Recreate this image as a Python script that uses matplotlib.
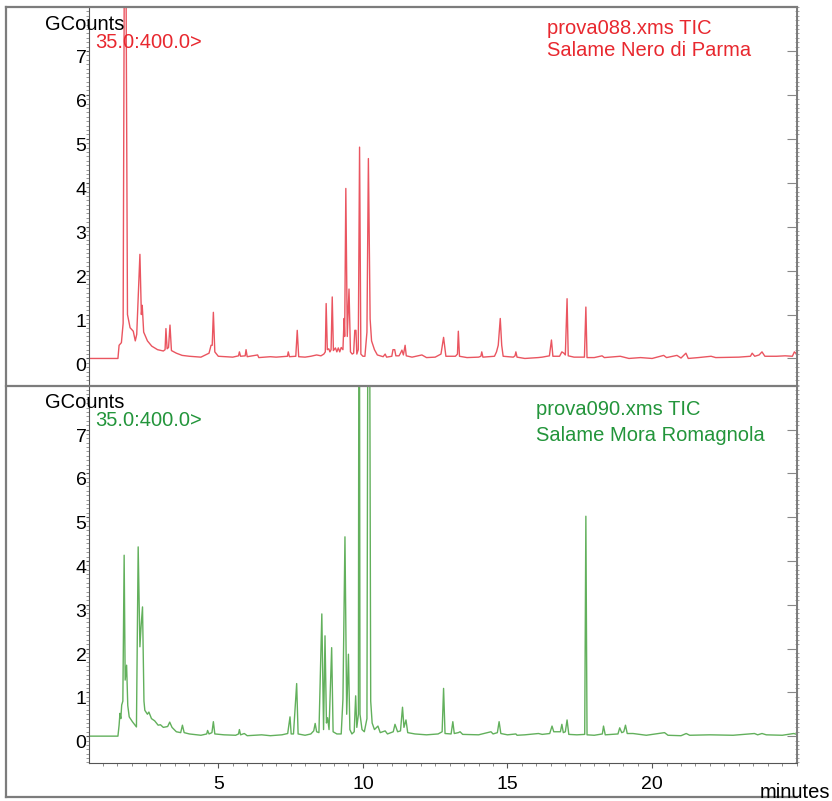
"""
Two stacked TIC chromatograms (GCounts vs minutes), Saturn-style layout.
"""

import matplotlib.pyplot as plt
from matplotlib.lines import Line2D
from matplotlib.ticker import FixedLocator, MultipleLocator
from matplotlib.transforms import ScaledTranslation

plt.rcParams["font.family"] = ["Liberation Sans", "DejaVu Sans"]

t_088 = [0.54, 1.53, 1.57, 1.65, 1.71, 1.775, 1.86, 1.95, 2.06, 2.13, 2.18,
         2.29, 2.34, 2.37, 2.42, 2.55, 2.70, 2.90, 3.10, 3.16, 3.19, 3.23,
         3.28, 3.33, 3.38, 3.55, 3.75, 4.00, 4.40, 4.68, 4.75, 4.79, 4.83,
         4.88, 5.00, 5.50, 5.70, 5.73, 5.77, 5.93, 5.96, 6.00, 6.36, 6.40,
         6.80, 7.00, 7.39, 7.42, 7.46, 7.68, 7.73, 7.78, 8.00, 8.20, 8.40,
         8.55, 8.65, 8.70, 8.73, 8.77, 8.82, 8.86, 8.90, 8.94, 8.98, 9.05,
         9.10, 9.15, 9.20, 9.25, 9.31, 9.35, 9.37, 9.41, 9.46, 9.52, 9.57,
         9.63, 9.68, 9.72, 9.76, 9.79, 9.84, 9.885, 9.93, 10.00, 10.07,
         10.14, 10.19, 10.25, 10.30, 10.40, 10.50, 10.70, 10.77, 10.82,
         11.00, 11.04, 11.10, 11.14, 11.25, 11.30, 11.35, 11.40, 11.46,
         11.50, 11.70, 12.04, 12.20, 12.50, 12.70, 12.79, 12.87, 13.20,
         13.27, 13.30, 13.34, 13.60, 14.00, 14.08, 14.11, 14.15, 14.55,
         14.62, 14.68, 14.75, 14.80, 14.85, 15.20, 15.26, 15.29, 15.33,
         15.60, 16.06, 16.20, 16.45, 16.52, 16.57, 16.80, 16.88, 16.95,
         17.00, 17.06, 17.10, 17.30, 17.66, 17.71, 17.75, 18.00, 18.27,
         18.35, 18.90, 19.20, 19.60, 20.00, 20.40, 20.50, 20.86, 21.00,
         21.17, 21.25, 21.60, 22.04, 22.20, 23.00, 23.40, 23.46, 23.55,
         23.70, 23.80, 23.90, 24.30, 24.60, 24.85, 24.92, 25.00]
i_088 = [0.00, 0.00, 0.30, 0.36, 0.80, 14.0, 1.00, 0.70, 0.62, 0.40, 0.55,
         2.37, 1.00, 1.21, 0.60, 0.40, 0.28, 0.20, 0.17, 0.20, 0.68, 0.22,
         0.25, 0.76, 0.18, 0.12, 0.07, 0.05, 0.03, 0.12, 0.30, 0.30, 1.05,
         0.15, 0.05, 0.03, 0.06, 0.15, 0.05, 0.06, 0.20, 0.04, 0.08, 0.02,
         0.04, 0.03, 0.05, 0.15, 0.04, 0.05, 0.64, 0.04, 0.03, 0.05, 0.08,
         0.06, 0.10, 0.15, 1.25, 0.20, 0.22, 0.15, 0.20, 1.40, 0.18, 0.24,
         0.15, 0.24, 0.15, 0.25, 0.20, 0.91, 0.50, 3.87, 0.50, 1.58, 0.15,
         0.10, 0.12, 0.64, 0.64, 0.10, 0.20, 4.81, 0.10, 0.05, 0.05,
         0.60, 4.55, 0.90, 0.40, 0.20, 0.08, 0.04, 0.10, 0.03,
         0.05, 0.20, 0.20, 0.06, 0.06, 0.12, 0.19, 0.08, 0.30,
         0.06, 0.03, 0.08, 0.02, 0.03, 0.10, 0.48, 0.05, 0.05,
         0.10, 0.62, 0.05, 0.02, 0.03, 0.05, 0.15, 0.03, 0.05,
         0.15, 0.30, 0.91, 0.30, 0.05, 0.03, 0.06, 0.15, 0.03,
         0.00, 0.02, 0.03, 0.06, 0.42, 0.05, 0.05, 0.15, 0.12,
         0.08, 1.36, 0.06, 0.03, 0.03, 1.17, 0.02, 0.02, 0.06,
         0.02, 0.05, 0.00, 0.02, 0.00, 0.07, 0.02, 0.07, 0.01,
         0.12, 0.00, 0.02, 0.05, 0.02, 0.03, 0.05, 0.12, 0.05,
         0.08, 0.15, 0.05, 0.05, 0.06, 0.05, 0.15, 0.10]

t_090 = [0.54, 1.53, 1.57, 1.60, 1.63, 1.66, 1.70, 1.745, 1.78, 1.83, 1.87,
         1.92, 2.03, 2.17, 2.23, 2.29, 2.33, 2.38, 2.43, 2.46, 2.55, 2.60,
         2.69, 2.80, 2.92, 3.00, 3.10, 3.25, 3.32, 3.40, 3.55, 3.70, 3.76,
         3.82, 4.00, 4.40, 4.60, 4.63, 4.68, 4.78, 4.83, 4.88, 5.20, 5.60,
         5.70, 5.73, 5.77, 5.90, 6.00, 6.50, 6.80, 7.20, 7.40, 7.48, 7.52,
         7.60, 7.71, 7.76, 8.00, 8.20, 8.30, 8.35, 8.40, 8.48, 8.58, 8.64,
         8.69, 8.74, 8.78, 8.83, 8.92, 8.97, 9.10, 9.25, 9.31, 9.38, 9.44,
         9.50, 9.55, 9.62, 9.70, 9.75, 9.79, 9.845, 9.87, 9.90, 9.97,
         10.05, 10.14, 10.20, 10.27, 10.32, 10.40, 10.52, 10.60, 10.77,
         10.85, 11.05, 11.11, 11.20, 11.30, 11.37, 11.42, 11.49, 11.55,
         11.80, 12.20, 12.60, 12.74, 12.79, 12.84, 13.05, 13.11, 13.16,
         13.30, 13.36, 13.45, 14.00, 14.43, 14.50, 14.65, 14.71, 14.77,
         15.00, 15.29, 15.33, 15.60, 16.07, 16.20, 16.46, 16.54, 16.60,
         16.83, 16.88, 16.93, 17.00, 17.06, 17.12, 17.40, 17.67, 17.71,
         17.75, 18.00, 18.28, 18.32, 18.38, 18.82, 18.88, 18.95, 19.02,
         19.08, 19.14, 19.34, 19.80, 20.43, 20.55, 21.00, 21.18, 21.30,
         22.00, 22.80, 23.54, 23.65, 23.80, 23.95, 24.50, 24.90, 25.00]
i_090 = [0.00, 0.00, 0.25, 0.52, 0.40, 0.71, 0.80, 4.13, 1.28, 1.62, 0.70,
         0.44, 0.33, 0.21, 4.32, 2.04, 2.50, 2.95, 0.80, 0.59, 0.50, 0.55,
         0.40, 0.35, 0.25, 0.26, 0.20, 0.22, 0.32, 0.20, 0.10, 0.08, 0.25,
         0.08, 0.05, 0.02, 0.05, 0.13, 0.05, 0.08, 0.33, 0.05, 0.03, 0.02,
         0.05, 0.15, 0.03, 0.06, 0.01, 0.03, 0.01, 0.03, 0.06, 0.44, 0.05,
         0.05, 1.20, 0.05, 0.02, 0.05, 0.12, 0.29, 0.10, 0.08, 2.79, 0.15,
         2.29, 0.30, 0.42, 0.15, 2.02, 0.10, 0.05, 0.05, 0.84, 4.55, 0.50,
         1.87, 0.15, 0.05, 0.10, 0.92, 0.20, 0.50, 16.0, 0.50, 0.15,
         0.10, 0.40, 18.0, 0.80, 0.30, 0.15, 0.23, 0.08, 0.12,
         0.05, 0.10, 0.27, 0.10, 0.12, 0.66, 0.20, 0.37, 0.08,
         0.05, 0.03, 0.05, 0.10, 1.09, 0.06, 0.05, 0.33, 0.06,
         0.08, 0.10, 0.04, 0.03, 0.10, 0.05, 0.08, 0.33, 0.06,
         0.03, 0.05, 0.02, 0.03, 0.06, 0.04, 0.06, 0.23, 0.10,
         0.10, 0.27, 0.08, 0.10, 0.37, 0.04, 0.03, 0.04, 5.02,
         0.03, 0.02, 0.05, 0.23, 0.03, 0.05, 0.19, 0.08, 0.10,
         0.25, 0.06, 0.06, 0.02, 0.08, 0.02, 0.01, 0.06, 0.02,
         0.03, 0.02, 0.06, 0.03, 0.06, 0.03, 0.02, 0.06, 0.04]

panels = [
    dict(t=t_088, i=i_088, file="prova088.xms TIC", name="Salame Nero di Parma",
         trace="#ea5560", text="#e8282f"),
    dict(t=t_090, i=i_090, file="prova090.xms TIC", name="Salame Mora Romagnola",
         trace="#62b05c", text="#23953b"),
]
mass_range = "35.0:400.0>"
y_ticks = [0, 1, 2, 3, 4, 5, 6, 7]
x_ticks = [5, 10, 15, 20]

W, H = 832, 801
fig = plt.figure(figsize=(W / 100, H / 100), dpi=100)
frame_c = "#7c7c7c"

left, right = 89.3 / W, 796.7 / W
tops = [7.0, 385.7]
bots = [385.7, 763.3]

for k, p in enumerate(panels):
    ax = fig.add_axes([left, 1 - bots[k] / H, right - left, (bots[k] - tops[k]) / H])
    ax.plot(p["t"], p["i"], color=p["trace"], lw=1.0)
    ax.set_xlim(0.54, 25.0)
    ax.set_ylim(-0.62, 8.0)

    ax.spines[["top"]].set_visible(False)
    ax.spines["left"].set_color("#555555")
    ax.spines["right"].set_color(frame_c)
    ax.spines["right"].set_linewidth(1.4)

    ax.yaxis.set_major_locator(FixedLocator(y_ticks))
    ax.yaxis.set_minor_locator(MultipleLocator(0.1))
    ax.tick_params(axis="y", which="major", direction="out", length=2, pad=0,
                   labelsize=14, color="#555555")
    ax.tick_params(axis="y", which="minor", direction="out", length=2.2,
                   color="#888888")
    for lab in ax.get_yticklabels():
        lab.set_transform(lab.get_transform()
                          + ScaledTranslation(0, -4 / 72, fig.dpi_scale_trans))

    # right-hand scale: inward major ticks, dense minor ticks
    sec = ax.secondary_yaxis("right")
    sec.spines["right"].set_color(frame_c)
    sec.yaxis.set_major_locator(FixedLocator(y_ticks))
    sec.yaxis.set_minor_locator(MultipleLocator(0.1))
    sec.tick_params(which="major", direction="in", length=7, labelright=False,
                    color="#888888")
    sec.tick_params(which="minor", direction="inout", length=3, color="#999999")

    if k == 0:
        ax.spines["bottom"].set_visible(False)
        ax.tick_params(axis="x", which="both", bottom=False, labelbottom=False)
    else:
        ax.spines["bottom"].set_color("#555555")
        ax.xaxis.set_major_locator(FixedLocator(x_ticks))
        ax.xaxis.set_minor_locator(MultipleLocator(0.5))
        ax.tick_params(axis="x", which="major", direction="out", length=3.6,
                       pad=5.5, labelsize=14, color="#555555")
        ax.tick_params(axis="x", which="minor", direction="out", length=2.2,
                       color="#777777")

    y0 = tops[k]
    fig.text(45 / W, 1 - (y0 + 17) / H, "GCounts", fontsize=14.5, va="center")
    fig.text(95 / W, 1 - (y0 + 35) / H, mass_range, fontsize=14.5, va="center",
             color=p["text"])
    tx = [546.7, 536.0][k]
    fig.text(tx / W, 1 - (y0 + [22, 24][k]) / H, p["file"], fontsize=14.5,
             va="center", color=p["text"])
    fig.text(tx / W, 1 - (y0 + [44, 50][k]) / H, p["name"], fontsize=14.5,
             va="center", color=p["text"])

# outer frame and panel separator
for (x0, y0, x1, y1) in [(6, 7, 797, 7), (6, 7, 6, 797), (6, 797, 797, 797),
                         (6, 385.7, 797, 385.7)]:
    fig.add_artist(Line2D([x0 / W, x1 / W], [1 - y0 / H, 1 - y1 / H],
                          color=frame_c, lw=1.6))

fig.text(760 / W, 1 - 792 / H, "minutes", fontsize=14.5, va="center")

fig.savefig("out.png", dpi=100)
print("wrote out.png")
